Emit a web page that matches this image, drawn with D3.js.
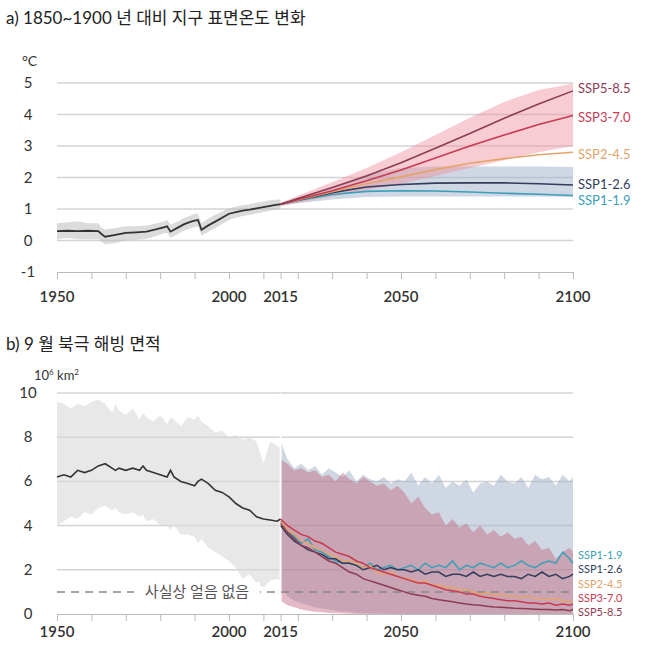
<!DOCTYPE html>
<html><head><meta charset="utf-8">
<script src="https://cdn.jsdelivr.net/npm/d3@7"></script>
<style>body{margin:0;background:#fff;font-family:Lato,"Noto Sans CJK KR",sans-serif}</style>
</head><body><svg id="c" width="654" height="656"></svg>
<script>
// ---- panel a: temperature change vs 1850-1900 ----
var tempHistYears = [1950,1953,1956,1959,1962,1963,1964,1967,1970,1973,1976,1979,1981,1982,1983,1985,1987,1989,1990,1991,1992,1994,1996,1998,2000,2002,2004,2006,2008,2010,2012,2014,2015];
var tempHist      = [0.3,0.31,0.3,0.31,0.3,0.2,0.12,0.18,0.24,0.26,0.28,0.36,0.42,0.45,0.28,0.4,0.52,0.6,0.63,0.65,0.34,0.48,0.6,0.72,0.85,0.9,0.95,0.98,1.02,1.06,1.1,1.14,1.15];
var tempHistHi    = [0.55,0.58,0.6,0.55,0.55,0.4,0.35,0.4,0.45,0.45,0.48,0.55,0.6,0.65,0.5,0.6,0.72,0.8,0.85,0.85,0.55,0.7,0.82,0.92,1.02,1.08,1.12,1.15,1.2,1.24,1.28,1.3,1.3];
var tempHistLo    = [0.05,0.08,0.05,0.03,0.05,-0.05,-0.12,-0.08,0.0,0.02,0.05,0.15,0.22,0.25,0.08,0.2,0.32,0.4,0.42,0.45,0.15,0.28,0.4,0.52,0.65,0.72,0.78,0.82,0.86,0.9,0.95,0.98,1.0];

var projYears = [2015,2020,2030,2040,2050,2060,2070,2080,2090,2100];
var tempSSP585 = [1.15,1.33,1.68,2.05,2.47,2.93,3.4,3.88,4.33,4.75];
var tempSSP370 = [1.15,1.3,1.58,1.9,2.24,2.62,3.0,3.35,3.68,3.97];
var tempSSP245 = [1.15,1.29,1.55,1.8,2.02,2.25,2.45,2.6,2.72,2.8];
var tempSSP126 = [1.15,1.28,1.52,1.7,1.78,1.82,1.83,1.83,1.8,1.76];
var tempSSP119 = [1.15,1.27,1.46,1.56,1.58,1.57,1.54,1.5,1.47,1.43];
var tempRedHi  = [1.2,1.42,1.85,2.3,2.8,3.35,3.9,4.4,4.78,4.98];
var tempRedLo  = [1.1,1.2,1.4,1.6,1.8,2.05,2.3,2.55,2.8,3.0];
var tempBlueHi = [1.2,1.35,1.7,2.1,2.3,2.35,2.35,2.35,2.35,2.33];
var tempBlueLo = [1.1,1.18,1.3,1.38,1.4,1.4,1.4,1.4,1.4,1.38];

// ---- panel b: September Arctic sea ice area ----
var iceHistYears = [1950,1952,1954,1956,1958,1960,1962,1964,1966,1967,1968,1970,1972,1974,1975,1976,1978,1980,1982,1983,1984,1986,1988,1990,1991,1992,1994,1996,1998,2000,2002,2004,2006,2008,2010,2012,2014,2015];
var iceHist      = [6.2,6.3,6.2,6.5,6.4,6.5,6.7,6.8,6.6,6.5,6.6,6.5,6.6,6.5,6.7,6.5,6.4,6.3,6.2,6.5,6.2,6.0,5.9,5.8,6.0,6.1,5.9,5.6,5.5,5.3,5.0,4.8,4.7,4.4,4.3,4.25,4.2,4.3];
var iceHistHi    = [9.6,9.5,9.3,9.5,9.4,9.6,9.7,9.5,9.1,9.5,9.2,9.0,9.3,8.8,9.1,8.9,8.7,9.0,8.6,8.9,8.8,8.5,8.9,8.8,9.0,8.7,8.5,8.2,8.3,8.0,8.1,7.9,8.0,7.8,6.8,7.8,7.6,7.5];
var iceHistLo    = [4.0,4.2,4.4,4.3,4.6,4.5,4.8,4.9,4.7,4.8,4.6,4.5,4.6,4.4,4.5,4.2,4.3,4.0,4.0,3.8,4.0,3.6,3.6,3.5,3.2,3.4,3.0,2.8,2.6,2.4,2.1,1.6,1.8,1.4,1.2,1.5,1.6,1.5];

var iceYears = [2015,2017,2019,2021,2023,2025,2027,2029,2031,2033,2035,2037,2039,2041,2043,2045,2047,2049,2051,2053,2055,2057,2059,2061,2063,2065,2067,2069,2071,2073,2075,2077,2079,2081,2083,2085,2087,2089,2091,2093,2095,2097,2099,2100];
var iceSSP119 = [4.2,3.7,3.5,3.2,3.4,2.9,2.8,2.6,2.4,2.3,2.3,2.2,2.1,2.3,2.0,2.1,2.2,2.0,2.1,2.2,2.0,2.3,2.1,2.2,2.1,2.4,2.0,2.2,2.1,2.3,2.2,2.1,2.3,2.1,2.2,2.4,2.2,2.1,2.3,2.4,2.3,2.8,2.5,2.3];
var iceSSP126 = [4.0,3.6,3.3,3.1,2.9,2.8,2.7,2.5,2.5,2.3,2.3,2.2,2.0,2.1,2.2,2.0,2.1,2.0,2.0,1.9,2.0,1.8,1.9,1.9,1.7,1.8,1.8,1.7,1.9,1.7,1.8,1.7,1.8,1.7,1.7,1.6,1.8,1.7,1.9,1.7,1.8,1.6,1.7,1.8];
var iceSSP245 = [4.2,3.8,3.6,3.3,3.2,3.0,2.9,2.7,2.6,2.4,2.4,2.3,2.1,2.2,1.9,1.8,1.9,1.7,1.6,1.6,1.4,1.5,1.3,1.3,1.2,1.2,1.1,1.1,1.0,0.9,0.95,0.85,0.9,0.8,0.8,0.75,0.8,0.7,0.7,0.65,0.7,0.6,0.55,0.6];
var iceSSP370 = [4.3,4.0,3.8,3.6,3.5,3.3,3.2,3.0,2.8,2.7,2.6,2.4,2.3,2.1,2.0,1.9,1.8,1.7,1.6,1.5,1.4,1.4,1.3,1.2,1.1,1.05,1.0,0.9,0.9,0.8,0.75,0.7,0.65,0.6,0.6,0.55,0.5,0.5,0.45,0.5,0.4,0.45,0.4,0.45];
var iceSSP585 = [4.1,3.7,3.4,3.1,3.0,2.8,2.6,2.4,2.3,2.1,1.9,1.8,1.6,1.5,1.4,1.3,1.2,1.1,1.0,0.9,0.85,0.8,0.7,0.65,0.6,0.55,0.5,0.45,0.42,0.4,0.35,0.32,0.3,0.28,0.26,0.25,0.24,0.22,0.2,0.2,0.18,0.2,0.15,0.2];
var iceBlueHi = [7.8,7.0,6.6,6.8,6.5,6.7,6.3,6.6,6.4,6.2,6.5,6.0,6.3,6.1,6.0,6.2,5.9,6.1,6.0,6.4,5.8,6.2,5.9,6.3,5.7,6.0,5.8,6.1,5.5,5.9,6.0,5.8,6.3,6.0,5.9,6.2,5.7,6.3,6.1,6.2,5.8,6.3,6.0,6.2];
var iceBlueLo = [1.2,0.8,0.6,0.5,0.4,0.3,0.25,0.2,0.15,0.1,0.1,0.05,0.05,0.03,0.02,0.02,0.01,0.01,0.01,0,0,0,0,0,0,0,0,0,0,0,0,0,0,0,0,0,0,0,0,0,0,0,0,0];
var iceRedHi  = [7.0,6.8,6.5,6.6,6.4,6.5,6.2,6.3,6.0,6.4,6.1,5.9,6.2,6.0,5.8,5.9,5.6,5.8,5.5,5.0,5.3,4.8,4.5,4.6,4.0,4.3,3.9,4.1,3.7,4.0,3.6,3.8,3.5,3.7,3.4,3.5,3.1,3.3,2.9,3.0,2.5,2.8,3.0,2.8];
var iceRedLo  = [0.6,0.4,0.3,0.2,0.15,0.1,0.08,0.05,0.03,0.02,0.01,0,0,0,0,0,0,0,0,0,0,0,0,0,0,0,0,0,0,0,0,0,0,0,0,0,0,0,0,0,0,0,0,0];

var C = {s585:"#8e3b52", s370:"#c93a52", s245:"#e4a46a", s126:"#323c5c", s119:"#3a9fb8"};
var svg = d3.select("#c");
var x = d3.scaleLinear().domain([1950,2100]).range([57,573]);
var tickYears = d3.range(1950,2101,10).concat([2015]);

function axisX(y0, ty) {
  svg.append("g").attr("transform","translate(0,"+y0+")")
    .call(d3.axisBottom(x).tickValues(tickYears).tickSize(7).tickFormat(""))
    .call(g => { g.select(".domain").attr("stroke","#bbb"); g.selectAll("line").attr("stroke","#bbb"); });
  svg.selectAll(null).data([1950,2000,2015,2050,2100]).enter().append("text")
    .attr("x", d => x(d)).attr("y", ty).attr("text-anchor","middle")
    .attr("font-size",15).attr("font-weight",600).attr("fill","#333").text(d => d);
}
function grid(y, vals) {
  svg.append("g").selectAll("line").data(vals).enter().append("line")
    .attr("x1",57).attr("x2",573).attr("y1",d=>y(d)).attr("y2",d=>y(d))
    .attr("stroke","#d3d3d3").attr("stroke-width",1.5);
  svg.append("g").selectAll("text").data(vals).enter().append("text")
    .attr("x",28).attr("y",d=>y(d)+5).attr("text-anchor","middle")
    .attr("font-size",15).attr("fill","#333").text(d=>d);
}
function band(xs, lo, hi, y, col, op) {
  var a = d3.area().x((d,i)=>x(xs[i])).y0((d,i)=>y(lo[i])).y1((d,i)=>y(hi[i]));
  svg.append("path").attr("d", a(xs)).attr("fill",col).attr("fill-opacity",op);
}
function line(xs, vs, y, col, w) {
  var l = d3.line().x((d,i)=>x(xs[i])).y(d=>y(d));
  svg.append("path").attr("d", l(vs)).attr("fill","none").attr("stroke",col).attr("stroke-width",w||1.6);
}
function label(txt, yy, col, fs) {
  svg.append("text").attr("x",578).attr("y",yy).attr("font-size",fs||13).attr("fill",col)
    .attr("font-family","Lato,sans-serif").text(txt);
}

// panel a
svg.append("text").attr("x",6).attr("y",24).attr("font-size",17).attr("fill","#222")
  .text("a) 1850~1900 년 대비 지구 표면온도 변화");
var yA = d3.scaleLinear().domain([-1,5]).range([272,83]);
svg.append("text").attr("x",22).attr("y",66).attr("font-size",14).attr("fill","#333").text("°C");
grid(yA, [0,1,2,3,4,5]);
svg.append("text").attr("x",28).attr("y",yA(-1)+5).attr("text-anchor","middle").attr("font-size",15).attr("fill","#333").text("-1");
band(tempHistYears, tempHistLo, tempHistHi, yA, "#bdbdbd", 0.55);
band(projYears, tempBlueLo, tempBlueHi, yA, "#9eb0c8", 0.5);
band(projYears, tempRedLo, tempRedHi, yA, "#ee8e9c", 0.45);
line(tempHistYears, tempHist, yA, "#333", 1.8);
line(projYears, tempSSP119, yA, C.s119);
line(projYears, tempSSP126, yA, C.s126);
line(projYears, tempSSP245, yA, C.s245);
line(projYears, tempSSP370, yA, C.s370);
line(projYears, tempSSP585, yA, C.s585);
axisX(272, 302);
label("SSP5-8.5", 93, C.s585);
label("SSP3-7.0", 122, C.s370);
label("SSP2-4.5", 159, C.s245);
label("SSP1-2.6", 189, C.s126);
label("SSP1-1.9", 205, C.s119);

// panel b
svg.append("text").attr("x",6).attr("y",350).attr("font-size",17).attr("fill","#222")
  .text("b) 9 월 북극 해빙 면적");
var yB = d3.scaleLinear().domain([0,10]).range([614,393]);
svg.append("text").attr("x",34).attr("y",380).attr("font-size",13).attr("fill","#333")
  .html('10<tspan dy="-5" font-size="8">6</tspan><tspan dy="5"> km</tspan><tspan dy="-5" font-size="8">2</tspan>');
grid(yB, [2,4,6,8,10]);
band(iceHistYears, iceHistLo, iceHistHi, yB, "#d9d9d9", 0.6);
band(iceYears, iceBlueLo, iceBlueHi, yB, "#9fb0c5", 0.5);
band(iceYears, iceRedLo, iceRedHi, yB, "#c0657e", 0.45);
svg.append("line").attr("x1",x(2015)).attr("x2",x(2015)).attr("y1",yB(10)).attr("y2",yB(0)).attr("stroke","#fff").attr("stroke-width",2);
// ice-free threshold
svg.append("line").attr("x1",57).attr("x2",573).attr("y1",yB(1)).attr("y2",yB(1))
  .attr("stroke","#888").attr("stroke-width",1.5).attr("stroke-dasharray","8,6");
svg.append("rect").attr("x",134).attr("y",yB(1)-10).attr("width",126).attr("height",20).attr("fill","#fff");
svg.append("text").attr("x",197).attr("y",yB(1)+5).attr("text-anchor","middle").attr("font-size",15)
  .attr("fill","#555").text("사실상 얼음 없음");
line(iceHistYears, iceHist, yB, "#333", 1.6);
line(iceYears, iceSSP119, yB, C.s119, 1.5);
line(iceYears, iceSSP126, yB, C.s126, 1.5);
line(iceYears, iceSSP245, yB, C.s245, 1.5);
line(iceYears, iceSSP370, yB, C.s370, 1.5);
line(iceYears, iceSSP585, yB, C.s585, 1.5);
axisX(614, 637);
svg.append("text").attr("x",28).attr("y",yB(0)+5).attr("text-anchor","middle").attr("font-size",15).attr("fill","#333").text("0");
label("SSP1-1.9", 559, C.s119, 11);
label("SSP1-2.6", 573, C.s126, 11);
label("SSP2-4.5", 588, C.s245, 11);
label("SSP3-7.0", 602, C.s370, 11);
label("SSP5-8.5", 616, C.s585, 11);
</script></body></html>
